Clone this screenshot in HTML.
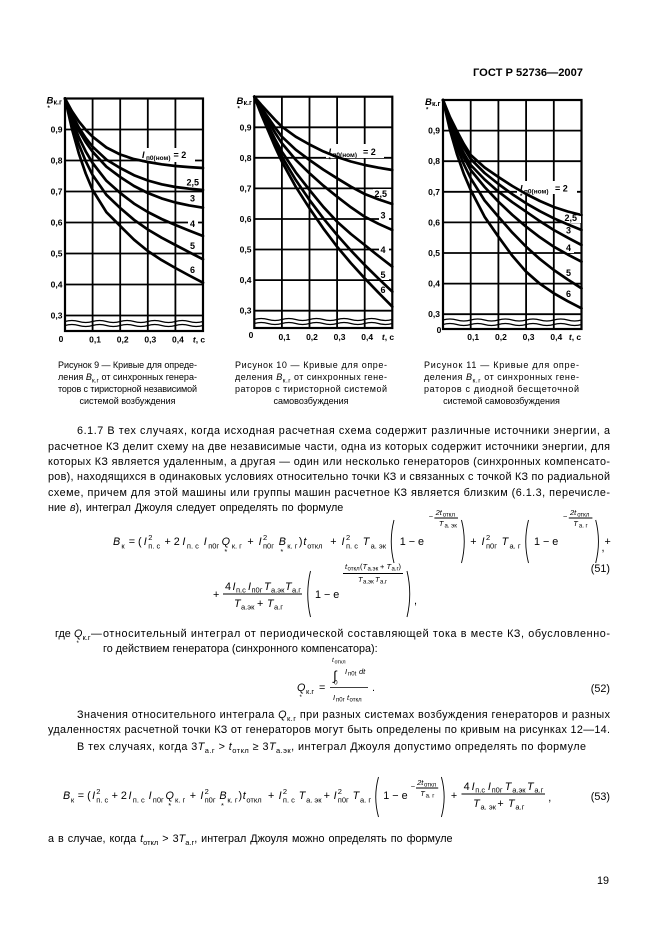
<!DOCTYPE html>
<html><head><meta charset="utf-8"><style>
html,body{margin:0;padding:0;background:#fff;}
body{width:661px;height:936px;overflow:hidden;}
svg text{font-family:"Liberation Sans",Arial,sans-serif;fill:#000;}
.b{font-size:10.8px}
.s{font-size:7.5px}
.xs{font-size:6px}
.i{font-style:italic}
.ax{font-size:8.5px;font-weight:bold}
.lb{font-size:9px;font-weight:bold}
.cap{font-size:9px}
</style></head><body>
<svg width="661" height="936" viewBox="0 0 661 936" xmlns="http://www.w3.org/2000/svg">
<rect x="0" y="0" width="661" height="936" fill="#fff"/>

<text x="583" y="76" text-anchor="end" font-weight="bold" font-size="11" textLength="110" lengthAdjust="spacingAndGlyphs">ГОСТ Р 52736—2007</text>

<!-- ===== CHART GRIDS ===== -->
<g stroke="#000" stroke-width="1.8" fill="none">
<rect x="65" y="98.5" width="138" height="232.5" stroke-width="2.2"/>
<path d="M65 129.5H203M65 160.5H203M65 191.5H203M65 222.5H203M65 253.5H203M65 284.5H203M65 315.5H203M92.6 98.5V331M120.2 98.5V331M147.8 98.5V331M175.4 98.5V331"/>
<path stroke-width="1.3" d="M65 321.5q6.9 -2 13.8 0t13.8 0t13.8 0t13.8 0t13.8 0t13.8 0t13.8 0t13.8 0t13.8 0t13.8 0M65 325.5q6.9 -2 13.8 0t13.8 0t13.8 0t13.8 0t13.8 0t13.8 0t13.8 0t13.8 0t13.8 0t13.8 0"/>

<rect x="254.3" y="96.7" width="138" height="231.3" stroke-width="2.2"/>
<path d="M254.3 127.3H392.3M254.3 157.8H392.3M254.3 188.4H392.3M254.3 219H392.3M254.3 249.5H392.3M254.3 280.1H392.3M254.3 310.7H392.3M281.9 96.7V328M309.5 96.7V328M337.1 96.7V328M364.7 96.7V328"/>
<path stroke-width="1.3" d="M254.3 319.5q6.9 -2 13.8 0t13.8 0t13.8 0t13.8 0t13.8 0t13.8 0t13.8 0t13.8 0t13.8 0t13.8 0M254.3 323.5q6.9 -2 13.8 0t13.8 0t13.8 0t13.8 0t13.8 0t13.8 0t13.8 0t13.8 0t13.8 0t13.8 0"/>

<rect x="443" y="100" width="138.5" height="229" stroke-width="2.2"/>
<path d="M443 130.6H581.5M443 161.2H581.5M443 191.8H581.5M443 222.4H581.5M443 253H581.5M443 283.6H581.5M443 314.2H581.5M470.7 100V329M498.4 100V329M526.1 100V329M553.8 100V329"/>
<path stroke-width="1.3" d="M443 320q6.925 -2 13.85 0t13.85 0t13.85 0t13.85 0t13.85 0t13.85 0t13.85 0t13.85 0t13.85 0t13.85 0M443 324.5q6.925 -2 13.85 0t13.85 0t13.85 0t13.85 0t13.85 0t13.85 0t13.85 0t13.85 0t13.85 0t13.85 0"/>
</g>

<!-- label backgrounds -->
<g fill="#fff">
<rect x="140" y="148" width="55" height="14"/>
<rect x="185.5" y="178" width="16" height="10"/>
<rect x="188" y="194" width="10" height="10"/>
<rect x="188" y="220" width="10" height="9"/>
<rect x="188" y="242" width="10" height="9"/>
<rect x="188" y="266" width="10" height="9"/>

<rect x="326" y="144" width="58" height="14"/>
<rect x="373" y="189" width="18" height="10"/>
<rect x="379" y="211" width="10" height="10"/>
<rect x="379" y="246" width="10" height="9"/>
<rect x="379" y="271" width="10" height="9"/>
<rect x="379" y="286" width="10" height="9"/>

<rect x="517" y="181" width="60" height="13"/>
<rect x="563" y="213" width="18" height="10"/>
<rect x="564" y="226" width="10" height="9"/>
<rect x="564" y="244" width="10" height="9"/>
<rect x="564" y="269" width="10" height="9"/>
<rect x="564" y="290" width="10" height="9"/>
</g>

<!-- ===== CURVES ===== -->
<g fill="none" stroke="#000" stroke-width="2.7" stroke-linejoin="round" stroke-linecap="round">
<!-- chart 1 -->
<polyline points="65,98.5 71.9,111.1 78.8,121.4 85.7,129.8 92.6,136.7 106.4,147.5 120.2,154.5 134,159.1 147.8,162 161.6,164.3 175.4,166 189.2,167.1 203,168"/>
<polyline points="65,98.5 71.9,114.4 78.8,127.4 85.7,138 92.6,146.7 106.4,159.6 120.2,168 134,175.2 147.8,180.5 161.6,184.3 175.4,187 189.2,188.7 203,190"/>
<polyline points="65,98.5 71.9,116.1 78.8,130.4 85.7,142.1 92.6,151.7 106.4,166.7 120.2,177 134,186 147.8,193 161.6,198.4 175.4,202.5 189.2,205.4 203,207.7"/>
<polyline points="65,98.5 71.9,119.8 78.8,137.2 85.7,151.4 92.6,163 106.4,180.8 120.2,193 134,203.6 147.8,212 161.6,219 175.4,225 189.2,230.6 203,236"/>
<polyline points="65,98.5 71.9,123.7 78.8,144.4 85.7,161.2 92.6,175 106.4,194.9 120.2,208 134,219.8 147.8,229.5 161.6,237.7 175.4,245 189.2,252.2 203,259.3"/>
<polyline points="65,98.5 71.9,128.7 78.8,153.4 85.7,173.5 92.6,190 106.4,212.2 120.2,226 134,239.7 147.8,251 161.6,260.1 175.4,268 189.2,275.5 203,282.7"/>
<!-- chart 2 -->
<polyline points="254.3,96.7 261.2,104.8 268.1,112.3 275,119.8 281.9,126.7 295.7,136.7 309.5,144.5 323.3,151.4 337.1,157 350.9,161.5 364.7,165 378.5,167.7 392.3,170"/>
<polyline points="254.3,96.7 261.2,107.5 268.1,117.5 275,127.5 281.9,136.7 295.7,149.7 309.5,160 323.3,169.6 337.1,178.3 350.9,186.7 364.7,194 378.5,199.4 392.3,204"/>
<polyline points="254.3,96.7 261.2,109.3 268.1,120.9 275,132.6 281.9,143.3 295.7,159.8 309.5,173.3 323.3,185.6 337.1,196.7 350.9,207.3 364.7,216.7 378.5,223.8 392.3,230"/>
<polyline points="254.3,96.7 261.2,111.6 268.1,125.3 275,139.1 281.9,151.7 295.7,172.3 309.5,190 323.3,206.8 337.1,221.7 350.9,234 364.7,245 378.5,256 392.3,266.7"/>
<polyline points="254.3,96.7 261.2,112.9 268.1,127.9 275,142.9 281.9,156.7 295.7,179.9 309.5,200 323.3,218.3 337.1,235 350.9,250.5 364.7,265 378.5,278.6 392.3,291.7"/>
<polyline points="254.3,96.7 261.2,114.3 268.1,130.5 275,146.7 281.9,161.7 295.7,186.7 309.5,208.3 323.3,228.4 337.1,246.7 350.9,263.1 364.7,278.3 378.5,292.7 392.3,306.7"/>
<!-- chart 3 -->
<polyline points="443,100 449.9,117 456.9,131 463.8,144 470.7,155 484.6,167.5 498.4,177 512.3,186 526.1,194 539.9,201 553.8,207 567.7,211.5 581.5,215"/>
<polyline points="443,100 449.9,118.5 456.9,134 463.8,147.5 470.7,159 484.6,173 498.4,184 512.3,194.2 526.1,203.3 539.9,211.2 553.8,218.3 567.7,224.4 581.5,230"/>
<polyline points="443,100 449.9,121.5 456.9,139 463.8,153.3 470.7,165 484.6,179.5 498.4,191.7 512.3,202.2 526.1,211.7 539.9,221.2 553.8,230 567.7,237.7 581.5,245"/>
<polyline points="443,100 449.9,123.1 456.9,142 463.8,157.4 470.7,170 484.6,187 498.4,201.7 512.3,214.9 526.1,226.7 539.9,237.3 553.8,246.7 567.7,254.5 581.5,261.7"/>
<polyline points="443,100 449.9,125.8 456.9,147 463.8,164.2 470.7,178.3 484.6,200.5 498.4,216.7 512.3,232.6 526.1,246.7 539.9,259.1 553.8,270 567.7,279.5 581.5,288.3"/>
<polyline points="443,100 449.9,129.7 456.9,154 463.8,173.8 470.7,190 484.6,216.8 498.4,236.7 512.3,255.8 526.1,271.7 539.9,283.8 553.8,293.3 567.7,301.2 581.5,308.3"/>
</g>

<!-- ===== CHART LABELS ===== -->
<g class="ax" text-anchor="end">
<text x="62.5" y="132.5">0,9</text><text x="62.5" y="163.5">0,8</text><text x="62.5" y="194.5">0,7</text><text x="62.5" y="225.5">0,6</text><text x="62.5" y="256.5">0,5</text><text x="62.5" y="287.5">0,4</text><text x="62.5" y="318.5">0,3</text>
<text x="251.5" y="130.3">0,9</text><text x="251.5" y="160.8">0,8</text><text x="251.5" y="191.4">0,7</text><text x="251.5" y="222">0,6</text><text x="251.5" y="252.5">0,5</text><text x="251.5" y="283.1">0,4</text><text x="251.5" y="313.7">0,3</text>
<text x="440" y="133.6">0,9</text><text x="440" y="164.2">0,8</text><text x="440" y="194.8">0,7</text><text x="440" y="225.4">0,6</text><text x="440" y="256">0,5</text><text x="440" y="286.6">0,4</text><text x="440" y="317.2">0,3</text>
</g>
<g class="ax" text-anchor="middle">
<text x="61" y="342">0</text><text x="95.1" y="342.5">0,1</text><text x="122.7" y="342.5">0,2</text><text x="150.3" y="342.5">0,3</text><text x="177.9" y="342.5">0,4</text><text x="199" y="342.5"><tspan font-style="italic">t</tspan>, c</text>
<text x="251" y="338">0</text><text x="284.4" y="340">0,1</text><text x="312" y="340">0,2</text><text x="339.6" y="340">0,3</text><text x="367.2" y="340">0,4</text><text x="388" y="340"><tspan font-style="italic">t</tspan>, c</text>
<text x="439" y="333">0</text><text x="473.2" y="340">0,1</text><text x="500.9" y="340">0,2</text><text x="528.6" y="340">0,3</text><text x="556.3" y="340">0,4</text><text x="575" y="340"><tspan font-style="italic">t</tspan>, c</text>
</g>

<!-- axis titles -->
<g font-weight="bold">
<text x="46.5" y="103.5" font-size="9.5" font-style="italic">B</text><text x="53.5" y="104.5" font-size="7">к.г</text><text x="47.5" y="110" font-size="6">*</text>
<text x="236.5" y="104" font-size="9.5" font-style="italic">B</text><text x="243.5" y="105" font-size="7">к.г</text><text x="237.5" y="110.5" font-size="6">*</text>
<text x="425" y="105" font-size="9.5" font-style="italic">B</text><text x="432" y="106" font-size="7">к.г</text><text x="426" y="111.5" font-size="6">*</text>
</g>

<!-- curve labels -->
<g class="lb">
<text x="142" y="158" font-style="italic">I</text><text x="146" y="160" font-size="6.5">п0(ном)</text><text x="173.5" y="158">= 2</text><text x="142" y="164.5" font-size="6">*</text>
<text x="186.5" y="185.5">2,5</text><text x="190" y="201.5">3</text><text x="190" y="227">4</text><text x="190" y="249">5</text><text x="190" y="273">6</text>

<text x="328.5" y="155" font-style="italic">I</text><text x="332.5" y="157" font-size="6.5">п0(ном)</text><text x="363" y="155">= 2</text><text x="328.5" y="161.5" font-size="6">*</text>
<text x="374.5" y="197">2,5</text><text x="380.5" y="218.5">3</text><text x="380.5" y="253">4</text><text x="380.5" y="278">5</text><text x="380.5" y="293">6</text>

<text x="520" y="191.5" font-style="italic">I</text><text x="524" y="193.5" font-size="6.5">п0(ном)</text><text x="555" y="191.5">= 2</text><text x="520" y="198" font-size="6">*</text>
<text x="564.5" y="221">2,5</text><text x="566" y="233.5">3</text><text x="566" y="251">4</text><text x="566" y="276">5</text><text x="566" y="297">6</text>
</g>

<!-- ===== CAPTIONS ===== -->
<g class="cap">
<text x="58" y="368" textLength="139" lengthAdjust="spacing">Рисунок 9 — Кривые для опреде-</text>
<text x="58" y="380" textLength="139" lengthAdjust="spacing">ления <tspan font-style="italic">B</tspan><tspan dy="2.5" font-size="6.5">к.г</tspan><tspan dy="-2.5"> от синхронных генера-</tspan></text>
<text x="58" y="392" textLength="139" lengthAdjust="spacing">торов с тиристорной независимой</text>
<text x="127.5" y="404" text-anchor="middle">системой возбуждения</text>

<text x="235" y="368" textLength="152" lengthAdjust="spacing">Рисунок 10 — Кривые для опре-</text>
<text x="235" y="380" textLength="152" lengthAdjust="spacing">деления <tspan font-style="italic">B</tspan><tspan dy="2.5" font-size="6.5">к.г</tspan><tspan dy="-2.5"> от синхронных гене-</tspan></text>
<text x="235" y="392" textLength="152" lengthAdjust="spacing">раторов с тиристорной системой</text>
<text x="311" y="404" text-anchor="middle">самовозбуждения</text>

<text x="424" y="368" textLength="155" lengthAdjust="spacing">Рисунок 11 — Кривые для опре-</text>
<text x="424" y="380" textLength="155" lengthAdjust="spacing">деления <tspan font-style="italic">B</tspan><tspan dy="2.5" font-size="6.5">к.г</tspan><tspan dy="-2.5"> от синхронных гене-</tspan></text>
<text x="424" y="392" textLength="155" lengthAdjust="spacing">раторов с диодной бесщеточной</text>
<text x="501.5" y="404" text-anchor="middle">системой самовозбуждения</text>
</g>

<!-- ===== PARAGRAPH 6.1.7 ===== -->
<g class="b">
<text x="77" y="434" textLength="533" lengthAdjust="spacing">6.1.7 В тех случаях, когда исходная расчетная схема содержит различные источники энергии, а</text>
<text x="48" y="450" textLength="562" lengthAdjust="spacing">расчетное КЗ делит схему на две независимые части, одна из которых содержит источники энергии, для</text>
<text x="48" y="465" textLength="562" lengthAdjust="spacing">которых КЗ является удаленным, а другая — один или несколько генераторов (синхронных компенсато-</text>
<text x="48" y="480" textLength="562" lengthAdjust="spacing">ров), находящихся в одинаковых условиях относительно точки КЗ и связанных с точкой КЗ по радиальной</text>
<text x="48" y="496" textLength="562" lengthAdjust="spacing">схеме, причем для этой машины или группы машин расчетное КЗ является близким (6.1.3, перечисле-</text>
<text x="48" y="511" word-spacing="0.8">ние <tspan font-style="italic">в</tspan>), интеграл Джоуля следует определять по формуле</text>
</g>

<!-- ===== FORMULA 51 ===== -->
<g class="b">
<text x="113" y="545" class="i">B</text><text x="121.4" y="548.5" class="s">к</text>
<text x="128.7" y="545">= (</text>
<text x="143.8" y="545" class="i">I</text><text x="148.3" y="540" class="s">2</text><text x="148.3" y="548.5" class="s">п. с</text>
<text x="164.5" y="545">+ 2</text>
<text x="182.4" y="545" class="i">I</text><text x="186.9" y="548.5" class="s">п. с</text>
<text x="203.7" y="545" class="i">I</text><text x="208.2" y="548.5" class="s">п0г</text>
<text x="221.6" y="545" class="i">Q</text><text x="231.7" y="548.5" class="s">к. г</text><text x="224.4" y="554" class="s">*</text>
<text x="247.4" y="545">+</text>
<text x="258.6" y="545" class="i">I</text><text x="263" y="540" class="s">2</text><text x="263" y="548.5" class="s">п0г</text>
<text x="278.8" y="545" class="i">B</text><text x="287.2" y="548.5" class="s">к. г</text><text x="280.4" y="554" class="s">*</text>
<text x="298.9" y="545">)</text><text x="303.4" y="545" class="i">t</text><text x="307.3" y="548.5" class="s">откл</text>
<text x="330.3" y="545">+</text>
<text x="341.5" y="545" class="i">I</text><text x="346" y="540" class="s">2</text><text x="346" y="548.5" class="s">п. с</text>
<text x="362.8" y="545" class="i">T</text><text x="370.6" y="548.5" class="s">а. эк</text>
<text x="399.7" y="545">1 − e</text>
<text x="428.8" y="519" class="s">−</text>
<text x="435.6" y="515" class="s i">2t</text><text x="442.8" y="516.5" class="xs">откл</text>
<text x="438.9" y="526" class="s i">T</text><text x="444.5" y="527.5" class="xs">а. эк</text>
<text x="470.3" y="545">+</text>
<text x="481.5" y="545" class="i">I</text><text x="486" y="540" class="s">2</text><text x="486" y="548.5" class="s">п0г</text>
<text x="501.6" y="545" class="i">T</text><text x="509.5" y="548.5" class="s">а. г</text>
<text x="534" y="545">1 − e</text>
<text x="563" y="519" class="s">−</text>
<text x="570" y="515" class="s i">2t</text><text x="577.2" y="516.5" class="xs">откл</text>
<text x="573.3" y="526" class="s i">T</text><text x="578.9" y="527.5" class="xs">а. г</text>
<text x="601.5" y="551">,</text><text x="604.5" y="545">+</text>

<text x="213" y="598">+</text>
<text x="225" y="590">4</text><text x="232.5" y="590" class="i">I</text><text x="236" y="592.5" class="s">п.с</text>
<text x="248" y="590" class="i">I</text><text x="251.5" y="592.5" class="s">п0г</text>
<text x="264" y="590" class="i">T</text><text x="271" y="592.5" class="s">а.эк</text>
<text x="285" y="590" class="i">T</text><text x="292" y="592.5" class="s">а.г</text>
<text x="234" y="607" class="i">T</text><text x="241" y="609.5" class="s">а.эк</text>
<text x="257" y="607">+</text>
<text x="267" y="607" class="i">T</text><text x="274" y="609.5" class="s">а.г</text>
<text x="315" y="598">1 − e</text>
<text x="345" y="569" class="s i">t</text><text x="347.5" y="570.5" class="xs">откл</text><text x="360" y="569" class="s">(</text><text x="362.5" y="569" class="s i">T</text><text x="367.5" y="570.5" class="xs">а.эк</text><text x="380" y="569" class="s">+</text><text x="386.5" y="569" class="s i">T</text><text x="391.5" y="570.5" class="xs">а.г</text><text x="398.5" y="569" class="s">)</text>
<text x="358" y="582" class="s i">T</text><text x="363" y="583.5" class="xs">а.эк</text><text x="375" y="582" class="s i">T</text><text x="380" y="583.5" class="xs">а.г</text>
<text x="414" y="604">,</text>
<text x="610" y="572" text-anchor="end">(51)</text>
</g>
<g stroke="#000" fill="none" stroke-width="0.9">
<path d="M434.4 518H458M568.8 518H592.4M223 594H302M343 573.5H403"/>
<path d="M394 520Q388.5 541.5 394 563M461.5 520Q467 541.5 461.5 563M528.5 520Q523 541.5 528.5 563M595.7 520Q601.2 541.5 595.7 563"/>
<path d="M310.5 571Q305 594 310.5 617M407 571Q412.5 594 407 617"/>
</g>

<!-- ===== WHERE Q ===== -->
<g class="b">
<text x="55" y="637">где</text>
<text x="74" y="637" class="i">Q</text><text x="82.5" y="640" class="s">к.г</text><text x="76.5" y="645" class="xs">*</text>
<text x="91" y="637">—</text>
<text x="103" y="637" textLength="507" lengthAdjust="spacing">относительный интеграл от периодической составляющей тока в месте КЗ, обусловленно-</text>
<text x="103" y="652">го действием генератора (синхронного компенсатора):</text>
</g>

<!-- ===== FORMULA 52 ===== -->
<g class="b">
<text x="332" y="662" font-size="6.5" font-style="italic">t</text><text x="334.5" y="663.5" font-size="5.5">откл</text>
<text x="333" y="680" font-size="13">∫</text>
<text x="345" y="674" class="s i">I</text><text x="348" y="675.5" class="xs">п0t</text><text x="359" y="674" class="s i">dt</text>
<text x="334" y="684.5" font-size="6.5">0</text>
<text x="333" y="700" class="s i">I</text><text x="336" y="701.5" class="xs">п0г</text><text x="347" y="700" class="s i">t</text><text x="349.5" y="701.5" class="xs">откл</text>
<text x="297" y="691" class="i">Q</text><text x="306" y="694" class="s">к.г</text><text x="299.5" y="699" class="xs">*</text>
<text x="319" y="691">=</text>
<text x="372" y="691">.</text>
<text x="610" y="692" text-anchor="end">(52)</text>
</g>
<path d="M330 687.5H368" stroke="#000" stroke-width="0.8"/>

<!-- ===== PARAGRAPHS ===== -->
<g class="b">
<text x="77" y="718" textLength="533" lengthAdjust="spacing">Значения относительного интеграла <tspan font-style="italic">Q</tspan><tspan dy="3" font-size="7.5">к.г</tspan><tspan dy="-3"> при разных системах возбуждения генераторов и разных</tspan></text>
<text x="48" y="733" textLength="562" lengthAdjust="spacing">удаленностях расчетной точки КЗ от генераторов могут быть определены по кривым на рисунках 12—14.</text>
<text x="77" y="750" textLength="509" lengthAdjust="spacing">В тех случаях, когда 3<tspan font-style="italic">T</tspan><tspan dy="3" font-size="7.5">а.г</tspan><tspan dy="-3"> &gt; </tspan><tspan font-style="italic">t</tspan><tspan dy="3" font-size="7.5">откл</tspan><tspan dy="-3"> ≥ 3</tspan><tspan font-style="italic">T</tspan><tspan dy="3" font-size="7.5">а.эк</tspan><tspan dy="-3">, интеграл Джоуля допустимо определять по формуле</tspan></text>
</g>

<!-- ===== FORMULA 53 ===== -->
<g class="b">
<text x="63" y="799" class="i">B</text><text x="70.9" y="802.5" class="s">к</text>
<text x="77.8" y="799">= (</text>
<text x="92.1" y="799" class="i">I</text><text x="96.3" y="794" class="s">2</text><text x="96.3" y="802.5" class="s">п. с</text>
<text x="111.6" y="799">+ 2</text>
<text x="128.5" y="799" class="i">I</text><text x="132.8" y="802.5" class="s">п. с</text>
<text x="148.6" y="799" class="i">I</text><text x="152.8" y="802.5" class="s">п0г</text>
<text x="165.5" y="799" class="i">Q</text><text x="175" y="802.5" class="s">к. г</text><text x="168.2" y="808" class="s">*</text>
<text x="189.8" y="799">+</text>
<text x="200.4" y="799" class="i">I</text><text x="204.6" y="794" class="s">2</text><text x="204.6" y="802.5" class="s">п0г</text>
<text x="219.4" y="799" class="i">B</text><text x="227.4" y="802.5" class="s">к. г</text><text x="221" y="808" class="s">*</text>
<text x="238.5" y="799">)</text><text x="242.7" y="799" class="i">t</text><text x="246.4" y="802.5" class="s">откл</text>
<text x="268" y="799">+</text>
<text x="278.6" y="799" class="i">I</text><text x="282.9" y="794" class="s">2</text><text x="282.9" y="802.5" class="s">п. с</text>
<text x="298.7" y="799" class="i">T</text><text x="306.1" y="802.5" class="s">а. эк</text>
<text x="323.6" y="799">+</text>
<text x="333.6" y="799" class="i">I</text><text x="337.8" y="794" class="s">2</text><text x="337.8" y="802.5" class="s">п0г</text>
<text x="352.6" y="799" class="i">T</text><text x="360" y="802.5" class="s">а. г</text>
<text x="383.3" y="799">1 − e</text>
<text x="410.8" y="789" class="s">−</text>
<text x="417.1" y="785" class="s i">2t</text><text x="424" y="786.5" class="xs">откл</text>
<text x="420.3" y="796" class="s i">T</text><text x="425.6" y="797.5" class="xs">а. г</text>
<text x="450.9" y="799">+</text>
<text x="463.6" y="790">4</text><text x="471.6" y="790" class="i">I</text><text x="475.2" y="792.5" class="s">п.с</text>
<text x="487.9" y="790" class="i">I</text><text x="491.6" y="792.5" class="s">п0г</text>
<text x="504.8" y="790" class="i">T</text><text x="512.2" y="792.5" class="s">а.эк</text>
<text x="527" y="790" class="i">T</text><text x="534.4" y="792.5" class="s">а.г</text>
<text x="473.1" y="807" class="i">T</text><text x="480.5" y="809.5" class="s">а. эк</text>
<text x="497.4" y="807">+</text>
<text x="508" y="807" class="i">T</text><text x="515.4" y="809.5" class="s">а.г</text>
<text x="548.2" y="801">,</text>
<text x="610" y="800" text-anchor="end">(53)</text>
</g>
<g stroke="#000" fill="none" stroke-width="0.9">
<path d="M416 788H438.2M461.5 794H545"/>
<path d="M378.5 777Q373 797 378.5 817M441.4 777Q446.9 797 441.4 817"/>
</g>

<g class="b">
<text x="48" y="842" word-spacing="1">а в случае, когда <tspan font-style="italic">t</tspan><tspan dy="3" font-size="7.5">откл</tspan><tspan dy="-3"> &gt; 3</tspan><tspan font-style="italic">T</tspan><tspan dy="3" font-size="7.5">а.г</tspan><tspan dy="-3">, интеграл Джоуля можно определять по формуле</tspan></text>
<text x="609" y="884" text-anchor="end">19</text>
</g>
</svg>
</body></html>
